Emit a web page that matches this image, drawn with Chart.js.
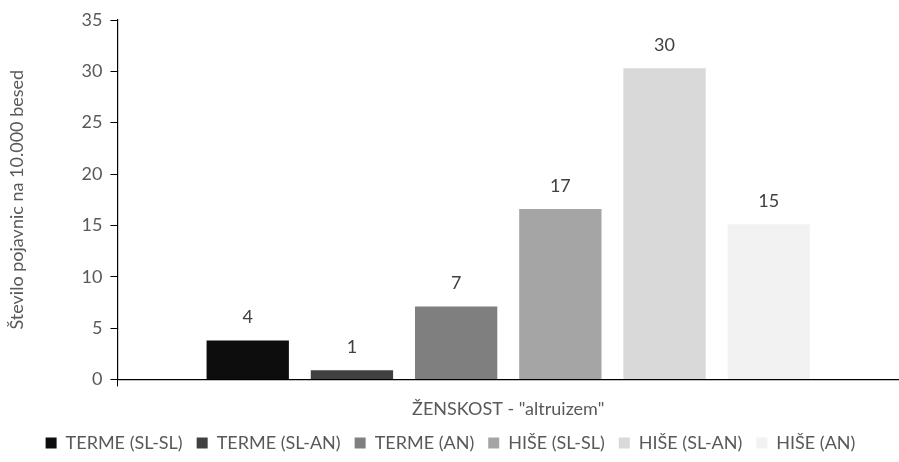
<!DOCTYPE html>
<html>
<head>
<meta charset="utf-8">
<script src="https://cdn.jsdelivr.net/npm/chart.js@4/dist/chart.umd.min.js"></script>
<style>
  html, body { margin: 0; padding: 0; background: #fff; }
  #wrap { width: 899px; height: 462px; }
</style>
</head>
<body>
<div id="wrap"><canvas id="c" width="899" height="462"></canvas></div>
<script>
// Category on the x axis
const categories = ['ŽENSKOST - "altruizem"'];

// Series names and their frequency per 10,000 words
const seriesNames = ['TERME (SL-SL)', 'TERME (SL-AN)', 'TERME (AN)', 'HIŠE (SL-SL)', 'HIŠE (SL-AN)', 'HIŠE (AN)'];
const termeSlSl = [3.8];
const termeSlAn = [0.9];
const termeAn = [7.1];
const hiseSlSl = [16.6];
const hiseSlAn = [30.3];
const hiseAn = [15.1];

// Value axis ticks
const yTicks = [0, 5, 10, 15, 20, 25, 30, 35];

const seriesValues = [termeSlSl, termeSlAn, termeAn, hiseSlSl, hiseSlAn, hiseAn];
const fills = ['#0d0d0d', '#404040', '#7f7f7f', '#a5a5a5', '#d9d9d9', '#f2f2f2'];

const FONT = 'Lato, "Open Sans", sans-serif';
const TEXT = '#595959';
const SIZE = 18;

// Writes each bar's rounded value just above it
const valueLabels = {
  id: 'valueLabels',
  afterDatasetsDraw(chart) {
    const ctx = chart.ctx;
    ctx.save();
    ctx.font = SIZE + 'px ' + FONT;
    ctx.fillStyle = '#404040';
    ctx.textAlign = 'center';
    ctx.textBaseline = 'middle';
    chart.data.datasets.forEach((ds, i) => {
      const meta = chart.getDatasetMeta(i);
      meta.data.forEach((bar, j) => {
        ctx.fillText(String(Math.round(ds.data[j])), bar.x, bar.y - 23);
      });
    });
    ctx.restore();
  }
};

new Chart(document.getElementById('c'), {
  type: 'bar',
  data: {
    labels: categories,
    datasets: seriesNames.map((name, i) => ({
      label: name,
      data: seriesValues[i],
      backgroundColor: fills[i],
      borderWidth: 0,
      barPercentage: 0.79,
      categoryPercentage: 0.8
    }))
  },
  options: {
    responsive: false,
    animation: false,
    layout: { padding: { top: 20, right: 0, left: 2, bottom: 0 } },
    plugins: {
      legend: {
        position: 'bottom',
        labels: {
          boxWidth: 11,
          boxHeight: 11,
          padding: 14,
          color: TEXT,
          font: { family: FONT, size: SIZE }
        }
      },
      tooltip: { enabled: false }
    },
    scales: {
      x: {
        grid: {
          display: true,
          drawOnChartArea: false,
          drawTicks: true,
          tickLength: 7,
          color: '#000'
        },
        border: { display: true, color: '#000', width: 1.2 },
        ticks: { display: false },
        title: {
          display: true,
          text: categories[0],
          color: TEXT,
          font: { family: FONT, size: SIZE },
          padding: { top: 12, bottom: 0 }
        }
      },
      y: {
        min: 0,
        max: 35,
        afterBuildTicks(axis) {
          axis.ticks = yTicks.map(v => ({ value: v }));
        },
        grid: {
          display: true,
          drawOnChartArea: false,
          drawTicks: true,
          tickLength: 7,
          color: '#000'
        },
        border: { display: true, color: '#000', width: 1.2 },
        ticks: {
          color: TEXT,
          font: { family: FONT, size: SIZE },
          padding: 8
        },
        title: {
          display: true,
          text: 'Število pojavnic na 10.000 besed',
          color: TEXT,
          font: { family: FONT, size: SIZE },
          padding: { bottom: 46 }
        }
      }
    }
  },
  plugins: [valueLabels]
});
</script>
</body>
</html>
